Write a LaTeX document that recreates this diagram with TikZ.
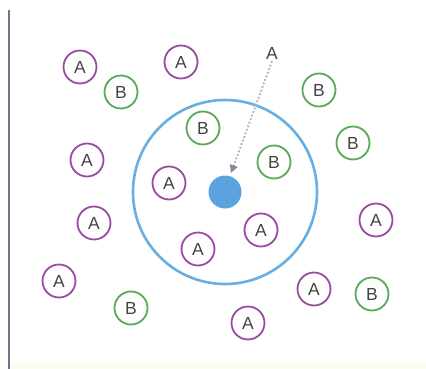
\documentclass[tikz,border=0pt]{standalone}
\usepackage{fontspec}
\setmainfont{Liberation Sans}
\usetikzlibrary{arrows.meta}
\definecolor{apurple}{HTML}{9A4CA0}
\definecolor{bgreen}{HTML}{5BAA57}
\definecolor{ringblue}{HTML}{68AEE2}
\definecolor{coreblue}{HTML}{5CA2DE}
\definecolor{txtgray}{HTML}{444444}
\definecolor{railgray}{HTML}{6C7888}
\definecolor{creambar}{HTML}{FDFCF0}
\begin{document}
\begin{tikzpicture}[x=1pt,y=-1pt,
  particle/.style={circle,draw,line width=1.8pt,minimum size=33pt,inner sep=0pt,
    text=txtgray,font=\fontsize{17.5}{17.5}\selectfont},
  pa/.style={particle,draw=apurple},
  pb/.style={particle,draw=bgreen}]
\useasboundingbox (0,0) rectangle (426,369);
\fill[white] (0,0) rectangle (426,369);
\fill[creambar] (10,363) rectangle (426,369);
\draw[railgray,line width=2pt] (9,10) -- (9,369);

% capture radius and the central particle
\node[circle,draw=ringblue,line width=2.6pt,minimum size=184pt,inner sep=0pt] (ring) at (225,192) {};
\node[circle,fill=coreblue,minimum size=33pt,inner sep=0pt] (core) at (225,192) {};

% surrounding particles
\node[pa] (a1) at (80,67) {A};
\node[pb] (b1) at (121,92) {B};
\node[pa] (a2) at (181,62) {A};
\node[pb] (b2) at (319,90) {B};
\node[pb] (b3) at (203,128) {B};
\node[pb] (b4) at (353,143) {B};
\node[pa] (a3) at (87,160) {A};
\node[pb] (b5) at (274,162) {B};
\node[pa] (a4) at (169,183) {A};
\node[pa] (a5) at (94,223) {A};
\node[pa] (a6) at (376,220) {A};
\node[pa] (a7) at (261,230) {A};
\node[pa] (a8) at (198,249) {A};
\node[pa] (a9) at (59,281) {A};
\node[pa] (a10) at (314,289) {A};
\node[pb] (b6) at (372,294) {B};
\node[pb] (b7) at (131,308) {B};
\node[pa] (a11) at (248,323) {A};

% incoming particle and its path
\node[text=txtgray,font=\fontsize{17.5}{17.5}\selectfont,inner sep=2pt] (inc) at (272,53) {A};
\coordinate (hit) at (231,173);
\draw[gray!60,line width=1.8pt,dotted,-{Triangle[length=8pt,width=8pt,color=railgray!85]}]
  (inc.south) -- (hit);
\end{tikzpicture}
\end{document}
